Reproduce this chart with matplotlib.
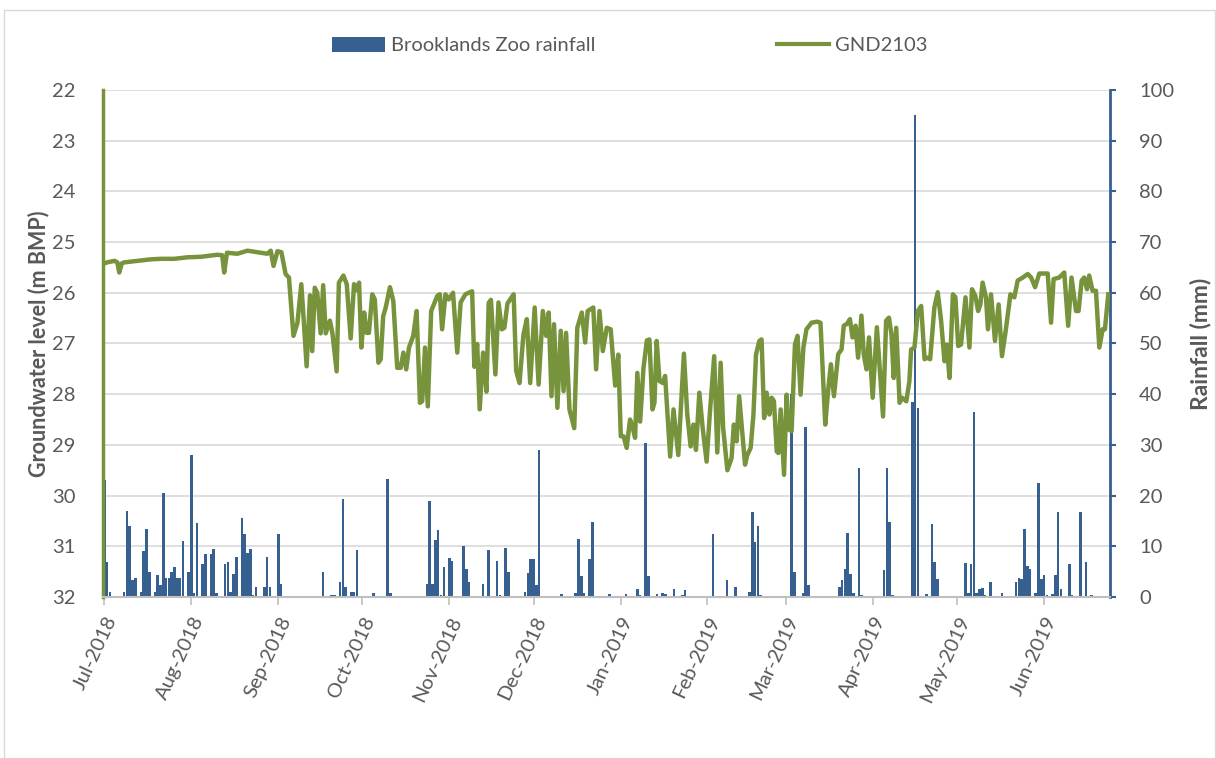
import pandas as pd
import matplotlib
matplotlib.use("Agg")
import matplotlib.pyplot as plt
from matplotlib.patches import Patch, Rectangle
from matplotlib.lines import Line2D

plt.rcParams['font.family'] = ['Lato', 'DejaVu Sans']

START = pd.Timestamp("2018-07-01")
END = pd.Timestamp("2019-06-24")

# daily rainfall, Brooklands Zoo (day offset from 1 Jul 2018, mm)
rain_day = [0, 1, 2, 7, 8, 9, 10, 11, 13, 14, 15, 16, 18, 19, 20, 21, 22, 23, 24, 25,
            26, 27, 28, 30, 31, 32, 33, 35, 36, 38, 39, 40, 43, 44, 45, 46, 47, 49, 50, 51,
            52, 53, 54, 57, 58, 59, 62, 63, 78, 81, 82, 84, 85, 86, 88, 89, 90, 96, 101, 102,
            115, 116, 117, 118, 119, 120, 121, 123, 124, 128, 129, 130, 135, 137, 140, 141, 143, 144, 150, 151,
            152, 153, 154, 155, 163, 168, 169, 170, 171, 173, 174, 180, 186, 190, 191, 193, 194, 197, 199, 200,
            203, 206, 207, 217, 222, 225, 230, 231, 232, 233, 234, 245, 246, 249, 250, 251, 262, 263, 264, 265,
            266, 267, 269, 270, 278, 279, 280, 281, 288, 289, 290, 293, 295, 296, 297, 307, 308, 309, 310, 311,
            312, 313, 314, 316, 320, 325, 326, 327, 328, 329, 330, 332, 333, 334, 335, 336, 338, 339, 340, 341,
            344, 345, 348, 350, 352]
rain_mm = [23.0, 6.9, 1.0, 1.0, 17.0, 14.0, 3.3, 3.8, 1.0, 9.0, 13.5, 4.9, 1.0, 4.4, 2.3, 20.5, 3.8, 3.8, 4.9, 6.0,
           3.8, 3.8, 11.0, 4.9, 28.0, 0.7, 14.5, 6.6, 8.5, 8.5, 9.5, 0.7, 6.5, 6.9, 1.0, 4.6, 7.9, 15.5, 12.5, 8.6,
           9.4, 0.3, 2.0, 2.0, 7.9, 2.0, 12.5, 2.6, 5.0, 0.3, 0.4, 3.0, 19.4, 2.0, 1.0, 1.0, 9.2, 0.7, 23.2, 0.7,
           2.6, 19.0, 2.6, 11.2, 13.2, 0.3, 6.0, 7.6, 7.1, 10.0, 5.6, 3.0, 2.6, 9.2, 7.1, 0.3, 9.7, 4.9, 1.0, 4.8,
           7.4, 7.4, 2.3, 29.0, 0.5, 0.7, 11.5, 4.1, 0.7, 7.4, 14.7, 0.5, 0.5, 1.6, 0.3, 30.3, 4.1, 0.5, 0.7, 0.5,
           1.5, 0.3, 1.3, 12.5, 3.3, 2.0, 1.0, 16.8, 10.9, 14.1, 0.3, 40.0, 4.9, 0.7, 33.6, 2.4, 2.0, 3.3, 5.6, 12.7,
           4.6, 0.7, 25.5, 0.3, 5.3, 25.5, 14.7, 0.3, 38.5, 95.1, 37.3, 0.5, 14.3, 7.0, 3.5, 6.8, 0.7, 6.6, 36.4, 0.7,
           1.6, 1.8, 0.3, 3.0, 0.7, 3.0, 3.8, 3.5, 13.5, 6.1, 5.5, 0.7, 22.4, 3.5, 4.4, 0.3, 0.5, 4.3, 16.8, 1.5,
           6.6, 0.3, 16.8, 6.9, 0.3]

# groundwater level GND2103 (day offset from 1 Jul 2018, m BMP)
gw_day = [0, 1, 3.6, 4.6, 5.3, 6.2, 7.1, 11.9, 16.6, 20.2, 24.9, 29.7, 34.4, 40.3, 42.0, 42.7, 43.7, 47.4, 51.0, 54.6,
          58.1, 59.3, 60.3, 61.7, 63.1, 64.6, 65.8, 67.4, 68.8, 70.2, 70.9, 72.1, 73.3, 74.1, 75.0, 75.9, 77.1, 78.0, 78.9, 80.4,
          81.3, 82.8, 83.6, 85.2, 86.4, 87.8, 89.0, 90.0, 90.8, 91.6, 92.6, 93.5, 94.3, 95.5, 96.4, 97.7, 98.5, 99.4, 100.3, 101.8,
          103.0, 104.4, 105.6, 106.6, 107.6, 108.6, 110.1, 111.3, 112.5, 113.3, 114.3, 115.3, 116.5, 118.7, 119.6, 120.4, 121.6, 122.8, 124.3, 125.8,
          127.0, 128.7, 131.1, 131.9, 132.9, 133.8, 135.0, 136.2, 137.0, 137.8, 139.4, 140.5, 141.7, 142.6, 143.7, 145.9, 146.8, 148.0, 149.4, 150.6,
          151.8, 153.4, 154.8, 156.3, 157.5, 158.4, 159.4, 160.3, 161.5, 162.7, 163.7, 164.6, 165.8, 167.5, 168.6, 170.2, 171.4, 172.3, 174.3, 175.3,
          176.5, 177.7, 179.1, 180.5, 182.1, 183.2, 184.1, 185.1, 186.2, 187.4, 188.4, 189.2, 190.0, 191.0, 192.2, 193.4, 194.3, 195.4, 196.1, 196.9,
          197.9, 199.1, 199.9, 201.7, 202.9, 204.6, 206.6, 207.8, 209.0, 210.0, 210.9, 212.1, 213.3, 214.7, 215.9, 217.4, 218.5, 219.7, 220.6, 222.1,
          223.6, 224.4, 225.4, 226.3, 227.5, 228.4, 229.2, 230.4, 231.4, 232.3, 233.5, 234.3, 235.2, 236.1, 237.1, 237.9, 238.7, 239.7, 240.3, 241.1,
          242.3, 243.2, 244.1, 245.0, 246.2, 247.1, 248.2, 249.2, 250.3, 252.1, 254.1, 255.3, 257.0, 258.0, 259.0, 260.1, 261.6, 262.8, 263.6, 264.8,
          265.8, 266.7, 267.8, 268.7, 269.9, 270.7, 271.7, 272.6, 273.9, 275.4, 276.4, 277.6, 278.7, 279.7, 280.6, 281.4, 282.3, 283.5, 284.4, 285.9,
          287.0, 287.6, 288.8, 290.0, 291.2, 292.4, 293.3, 294.4, 295.9, 297.1, 298.3, 299.5, 300.3, 301.3, 302.5, 303.4, 304.4, 305.4, 307.0, 308.4,
          309.3, 310.5, 311.5, 312.3, 313.1, 314.3, 315.0, 316.1, 317.5, 318.8, 320.0, 321.4, 323.0, 324.4, 325.6, 327.4, 329.2, 330.4, 331.8, 333.3,
          336.3, 337.5, 338.4, 340.4, 342.2, 343.6, 344.8, 346.4, 347.3, 348.4, 349.3, 350.3, 351.1, 352.3, 353.5, 354.7, 355.9, 356.7, 357.9]
gw_level = [25.42, 25.40, 25.37, 25.40, 25.60, 25.42, 25.40, 25.37, 25.34, 25.33, 25.33, 25.30, 25.29, 25.25, 25.26, 25.60, 25.21, 25.23, 25.17, 25.20,
            25.23, 25.17, 25.47, 25.18, 25.20, 25.63, 25.70, 26.85, 26.60, 25.83, 26.40, 27.45, 26.05, 27.15, 25.90, 26.00, 26.80, 25.85, 26.80, 26.55,
            26.80, 27.55, 25.80, 25.66, 25.83, 26.90, 25.83, 25.95, 25.80, 27.08, 26.39, 26.79, 26.79, 26.03, 26.13, 27.38, 27.31, 26.46, 26.29, 25.89,
            26.16, 27.48, 27.48, 27.18, 27.51, 27.08, 26.85, 26.36, 28.17, 28.14, 27.08, 28.24, 26.36, 26.06, 26.03, 26.72, 26.03, 26.13, 26.00, 27.18,
            26.19, 26.03, 25.97, 27.46, 27.01, 28.30, 27.18, 27.95, 26.20, 26.14, 27.61, 26.19, 26.72, 26.69, 26.21, 26.03, 27.54, 27.78, 26.82, 26.52,
            27.78, 26.29, 27.81, 26.36, 26.85, 26.39, 28.04, 26.62, 28.27, 26.75, 27.94, 26.79, 28.30, 28.67, 26.69, 26.39, 26.98, 26.36, 26.29, 27.51,
            26.36, 27.15, 26.69, 26.72, 27.83, 27.22, 28.83, 28.83, 29.06, 28.50, 28.67, 28.86, 27.58, 28.54, 27.48, 26.94, 26.92, 28.30, 28.17, 26.95,
            27.74, 27.78, 27.64, 29.23, 28.30, 29.20, 27.20, 28.40, 29.03, 28.60, 29.10, 27.97, 28.67, 29.33, 28.34, 27.25, 29.15, 27.38, 28.67, 29.50,
            29.26, 28.60, 28.93, 28.04, 28.80, 29.39, 29.20, 29.06, 28.40, 27.22, 26.95, 26.92, 28.47, 27.97, 28.40, 28.07, 28.14, 29.13, 29.16, 28.30,
            29.59, 28.01, 28.70, 28.73, 27.02, 26.85, 28.01, 27.08, 26.72, 26.59, 26.57, 26.59, 28.60, 27.94, 27.41, 28.04, 27.21, 27.12, 26.65, 26.61,
            26.52, 26.88, 26.65, 27.28, 26.45, 27.21, 27.51, 26.88, 28.07, 26.68, 27.48, 28.44, 26.55, 26.49, 26.82, 27.68, 26.69, 28.17, 28.07, 28.14,
            27.74, 27.12, 27.08, 26.36, 26.26, 27.31, 27.28, 27.31, 26.29, 25.99, 26.55, 27.35, 27.02, 27.68, 26.03, 26.09, 27.05, 27.02, 26.09, 27.08,
            25.93, 26.06, 26.36, 26.23, 25.80, 26.09, 26.72, 26.03, 26.95, 26.23, 27.25, 26.72, 26.03, 26.09, 25.76, 25.70, 25.63, 25.70, 25.89, 25.62,
            25.62, 26.59, 25.73, 25.70, 25.60, 26.65, 25.70, 26.36, 26.36, 25.76, 25.70, 25.93, 25.66, 25.96, 25.96, 27.08, 26.72, 26.72, 26.03]

BLUE = '#36608f'
GREEN = '#77933c'
TEXT = '#595959'
GRID = '#d9d9d9'

rain_dates = START + pd.to_timedelta(rain_day, unit="D")
gw_dates = START + pd.to_timedelta(gw_day, unit="D")
month_ticks = pd.date_range("2018-07-01", "2019-06-01", freq="MS")

fig = plt.figure(figsize=(12.16, 7.58), dpi=100)
ax = fig.add_axes([0.0847, 0.2124, 0.8281, 0.6689])
ax2 = ax.twinx()
ax.set_zorder(ax2.get_zorder() + 1)
ax.patch.set_visible(False)

# rainfall bars on right axis
ax2.bar(rain_dates, rain_mm, width=0.92, color=BLUE, linewidth=0)
ax2.set_ylim(0, 100)
ax2.set_yticks(range(0, 101, 10))
ax2.grid(axis='y', color=GRID, linewidth=1.2)
ax2.set_axisbelow(True)
ax2.tick_params(axis='y', length=4, width=1.5, color=BLUE, labelsize=14.5, labelcolor=TEXT, pad=17)
ax2.set_ylabel("Rainfall (mm)", fontsize=16.5, fontweight='bold', color=TEXT, labelpad=11)

# groundwater line on left axis (inverted)
ax.plot(gw_dates, gw_level, color=GREEN, linewidth=3.2, solid_joinstyle='round')
ax.set_ylim(32, 22)
ax.set_yticks(range(22, 33))
ax.tick_params(axis='y', length=0, labelsize=14.5, labelcolor=TEXT, pad=20)
ax.set_ylabel("Groundwater level (m BMP)", fontsize=15.5, fontweight='bold', color=TEXT, labelpad=2)

ax.set_xlim(START - pd.Timedelta(hours=12), END + pd.Timedelta(hours=12))
ax.set_xticks(month_ticks)
ax.set_xticklabels([d.strftime('%b-%Y') for d in month_ticks], rotation=65,
                   ha='right', rotation_mode='anchor', fontsize=14.5, color=TEXT)
ax.tick_params(axis='x', length=6, width=1.2, color='#bfbfbf', pad=6)

for s in ['top', 'right']:
    ax.spines[s].set_visible(False)
for s in ['top', 'left', 'bottom']:
    ax2.spines[s].set_visible(False)
ax.spines['left'].set_color(GREEN)
ax.spines['left'].set_linewidth(2.5)
ax.spines['bottom'].set_color('#bfbfbf')
ax.spines['bottom'].set_linewidth(1.5)
ax2.spines['right'].set_color(BLUE)
ax2.spines['right'].set_linewidth(2)

handles = [Patch(facecolor=BLUE, edgecolor='none'),
           Line2D([0], [0], color=GREEN, linewidth=3)]
fig.legend(handles, ["Brooklands Zoo rainfall", "GND2103"], loc='center',
           bbox_to_anchor=(0.518, 0.94), ncol=2, frameon=False, fontsize=14.5,
           handlelength=2.6, handleheight=0.75, handletextpad=0.3, columnspacing=9.0,
           labelcolor=TEXT)

fig.add_artist(Rectangle((0.003, -0.01), 0.996, 0.997, transform=fig.transFigure,
                         fill=False, edgecolor=GRID, linewidth=1))

fig.savefig("out.png", dpi=100)
